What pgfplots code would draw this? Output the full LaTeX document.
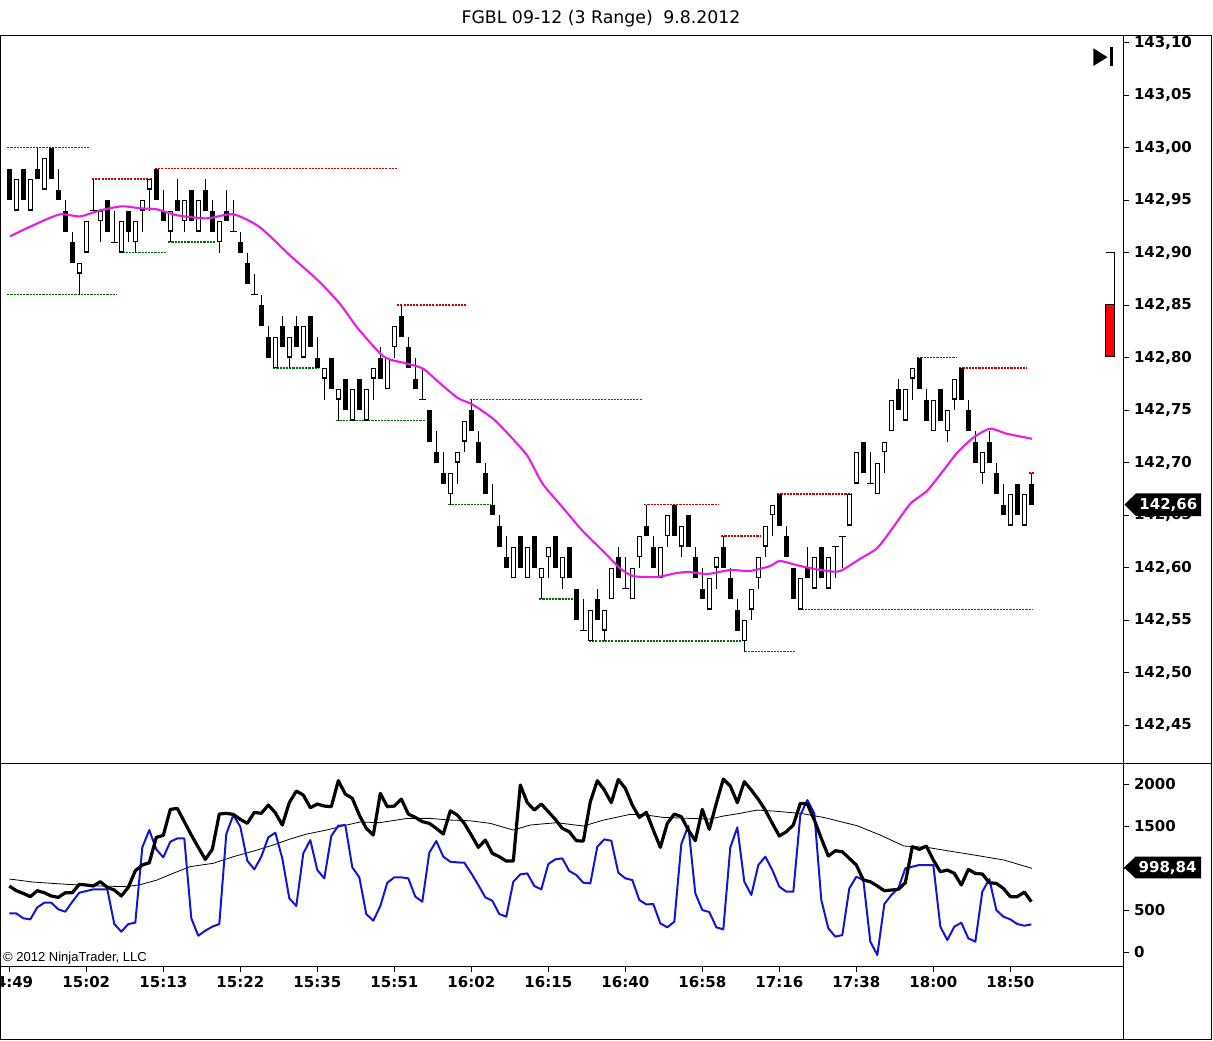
\documentclass[border=0pt]{standalone}
\usepackage{pgfplots}
\pgfplotsset{compat=1.18}
\usepackage{pgfplotstable}
\usepackage{fontspec}
\setmainfont{DejaVu Sans}
\newfontfamily\arial{Liberation Sans}
\definecolor{ma}{RGB}{230,30,230}
\definecolor{bl}{RGB}{20,20,215}
\definecolor{dred}{RGB}{200,0,0}
\definecolor{dgreen}{RGB}{0,110,0}

% down candles (close < open)
\pgfplotstableread{
i o h l c
0 142.98 142.98 142.95 142.95
2 142.98 142.98 142.95 142.95
4 142.98 143.00 142.97 142.97
6 143.00 143.00 142.97 142.97
7 142.96 142.98 142.95 142.95
8 142.94 142.95 142.92 142.92
9 142.91 142.92 142.89 142.89
14 142.95 142.95 142.92 142.92
17 142.94 142.94 142.91 142.92
21 142.98 142.98 142.95 142.95
22 142.94 142.96 142.93 142.93
24 142.95 142.97 142.94 142.94
26 142.96 142.96 142.93 142.93
28 142.96 142.97 142.94 142.94
29 142.94 142.95 142.92 142.92
31 142.94 142.96 142.93 142.93
33 142.91 142.92 142.90 142.90
34 142.89 142.90 142.87 142.87
36 142.85 142.86 142.83 142.83
37 142.82 142.83 142.80 142.80
39 142.83 142.84 142.81 142.81
41 142.83 142.84 142.81 142.81
43 142.84 142.84 142.81 142.81
44 142.80 142.82 142.79 142.79
46 142.80 142.80 142.77 142.77
48 142.78 142.78 142.75 142.75
50 142.78 142.78 142.75 142.75
53 142.80 142.81 142.78 142.78
56 142.84 142.85 142.82 142.82
57 142.81 142.82 142.79 142.79
58 142.78 142.80 142.77 142.77
60 142.75 142.75 142.72 142.72
61 142.71 142.73 142.70 142.70
62 142.69 142.71 142.68 142.68
66 142.75 142.76 142.73 142.73
67 142.72 142.73 142.70 142.70
68 142.69 142.70 142.67 142.67
69 142.66 142.68 142.65 142.65
70 142.64 142.65 142.62 142.62
71 142.61 142.63 142.60 142.60
73 142.63 142.63 142.60 142.60
75 142.63 142.63 142.60 142.60
78 142.63 142.63 142.60 142.60
80 142.62 142.62 142.59 142.59
81 142.58 142.58 142.55 142.55
84 142.57 142.58 142.55 142.55
87 142.61 142.62 142.59 142.59
91 142.64 142.66 142.63 142.63
92 142.62 142.63 142.60 142.60
95 142.66 142.66 142.63 142.63
97 142.65 142.65 142.62 142.62
98 142.61 142.62 142.59 142.59
99 142.58 142.60 142.57 142.57
102 142.62 142.63 142.60 142.60
103 142.59 142.60 142.57 142.57
104 142.56 142.57 142.54 142.54
110 142.67 142.67 142.64 142.64
111 142.63 142.64 142.61 142.61
112 142.60 142.60 142.57 142.57
114 142.60 142.62 142.59 142.59
116 142.62 142.62 142.59 142.59
122 142.72 142.72 142.69 142.69
127 142.77 142.78 142.75 142.75
130 142.80 142.80 142.77 142.77
131 142.76 142.77 142.74 142.74
133 142.77 142.77 142.74 142.74
136 142.79 142.79 142.76 142.76
137 142.75 142.76 142.73 142.73
138 142.72 142.73 142.70 142.70
140 142.72 142.73 142.70 142.70
141 142.69 142.70 142.67 142.67
142 142.66 142.68 142.65 142.65
144 142.68 142.68 142.65 142.65
146 142.68 142.69 142.66 142.66
}\dn

% up candles (close > open)
\pgfplotstableread{
i o h l c
1 142.94 142.97 142.94 142.97
3 142.94 142.97 142.94 142.97
5 142.96 142.99 142.96 142.99
10 142.88 142.89 142.86 142.89
11 142.90 142.93 142.90 142.93
13 142.93 142.94 142.91 142.94
16 142.90 142.93 142.90 142.93
18 142.91 142.93 142.90 142.93
19 142.94 142.95 142.92 142.95
20 142.96 142.97 142.94 142.97
23 142.92 142.94 142.91 142.94
25 142.93 142.95 142.92 142.95
27 142.92 142.95 142.92 142.95
30 142.91 142.93 142.90 142.93
38 142.79 142.82 142.79 142.82
40 142.80 142.82 142.79 142.82
42 142.80 142.83 142.80 142.83
45 142.78 142.79 142.76 142.79
47 142.76 142.77 142.74 142.77
49 142.74 142.77 142.74 142.77
51 142.74 142.77 142.74 142.77
52 142.78 142.79 142.76 142.79
54 142.77 142.80 142.77 142.80
55 142.81 142.83 142.80 142.83
63 142.67 142.69 142.66 142.69
64 142.70 142.71 142.68 142.71
65 142.72 142.74 142.71 142.74
72 142.59 142.62 142.59 142.62
74 142.59 142.62 142.59 142.62
76 142.59 142.60 142.57 142.60
77 142.61 142.62 142.59 142.62
79 142.59 142.61 142.58 142.61
83 142.53 142.56 142.53 142.56
85 142.54 142.56 142.53 142.56
86 142.57 142.60 142.57 142.60
89 142.57 142.60 142.57 142.60
90 142.61 142.63 142.60 142.63
93 142.59 142.62 142.59 142.62
94 142.63 142.65 142.62 142.65
96 142.62 142.64 142.61 142.64
100 142.56 142.59 142.56 142.59
101 142.60 142.61 142.58 142.61
105 142.53 142.55 142.52 142.55
106 142.56 142.58 142.55 142.58
107 142.59 142.61 142.58 142.61
108 142.62 142.64 142.61 142.64
109 142.65 142.66 142.63 142.66
113 142.56 142.59 142.56 142.59
115 142.58 142.61 142.58 142.61
117 142.58 142.61 142.58 142.61
120 142.64 142.67 142.64 142.67
121 142.68 142.71 142.68 142.71
124 142.67 142.70 142.67 142.70
125 142.71 142.72 142.69 142.72
126 142.73 142.76 142.73 142.76
128 142.74 142.77 142.74 142.77
129 142.78 142.79 142.76 142.79
132 142.73 142.76 142.73 142.76
134 142.73 142.75 142.72 142.75
135 142.76 142.78 142.75 142.78
139 142.69 142.71 142.68 142.71
143 142.64 142.67 142.64 142.67
145 142.64 142.67 142.64 142.67
}\up

% doji candles (close = open)
\pgfplotstableread{
i o h l c
12 142.94 142.97 142.94 142.94
15 142.91 142.94 142.91 142.91
32 142.92 142.95 142.92 142.92
35 142.86 142.88 142.86 142.86
59 142.76 142.79 142.76 142.76
82 142.54 142.57 142.54 142.54
88 142.58 142.61 142.58 142.58
118 142.62 142.62 142.59 142.62
119 142.63 142.63 142.60 142.63
123 142.68 142.71 142.68 142.68
}\dj

\pgfplotsset{
  wick/.style={draw=none, mark=none, forget plot,
    error bars/.cd, y dir=plus, y explicit, error mark=none,
    error bar style={draw=black, solid, line width=0.75pt}},
  body/.style={draw=none, mark=none, forget plot,
    error bars/.cd, y dir=plus, y explicit, error mark=none,
    error bar style={draw=#1, solid, line width=3.75pt}},
  inner/.style={draw=none, mark=none, forget plot,
    error bars/.cd, y dir=plus, y explicit, error mark=none,
    error bar style={draw=white, solid, line width=2.25pt}},
  lvlr/.style={dred, line width=1.3pt, dash pattern=on 1.6pt off 0.8pt, forget plot},
  lvlg/.style={dgreen, line width=1.3pt, dash pattern=on 1.6pt off 0.8pt, forget plot},
}

\begin{document}
\begin{tikzpicture}
\useasboundingbox (0pt,0pt) rectangle (909.75pt,-780pt);

\begin{axis}[
  scale only axis, width=842.1pt, height=546pt,
  at={(0.375pt,-572.475pt)}, anchor=south west,
  xmin=-1.257, xmax=159.14, ymin=142.41352, ymax=143.10686,
  xtick=\empty,
  ytick={142.45,142.50,142.55,142.60,142.65,142.70,142.75,142.80,142.85,142.90,142.95,143.00,143.05,143.10},
  ytick pos=right, yticklabel pos=right,
  tick align=outside, major tick length=4.5pt,
  tick style={black, line width=0.75pt},
  axis line style={black, line width=0.75pt},
  tick label style={font=\fontsize{11.25}{13}\selectfont\bfseries},
  /pgf/number format/assume math mode=true,
  yticklabel style={/pgf/number format/fixed, /pgf/number format/fixed zerofill,
    /pgf/number format/precision=2, /pgf/number format/use comma},
]
% support / resistance levels
\addplot[lvlr] coordinates {(-0.3,143.00) (11.4,143.00)};
\addplot[lvlr] coordinates {(11.8,142.97) (20.4,142.97)};
\addplot[lvlr] coordinates {(20.8,142.98) (55.4,142.98)};
\addplot[lvlr] coordinates {(55.4,142.85) (65.2,142.85)};
\addplot[lvlr] coordinates {(65.8,142.76) (90.4,142.76)};
\addplot[lvlr] coordinates {(90.7,142.66) (101.4,142.66)};
\addplot[lvlr] coordinates {(101.7,142.63) (107.4,142.63)};
\addplot[lvlr] coordinates {(109.7,142.67) (120.4,142.67)};
\addplot[lvlr] coordinates {(129.7,142.80) (135.4,142.80)};
\addplot[lvlr] coordinates {(135.7,142.79) (145.4,142.79)};
\addplot[lvlr] coordinates {(145.7,142.69) (146.4,142.69)};
\addplot[lvlg] coordinates {(-0.3,142.86) (15.4,142.86)};
\addplot[lvlg] coordinates {(15.7,142.90) (22.4,142.90)};
\addplot[lvlg] coordinates {(22.7,142.91) (29.4,142.91)};
\addplot[lvlg] coordinates {(37.7,142.79) (44.2,142.79)};
\addplot[lvlg] coordinates {(46.7,142.74) (59.4,142.74)};
\addplot[lvlg] coordinates {(62.7,142.66) (68.7,142.66)};
\addplot[lvlg] coordinates {(75.7,142.57) (80.5,142.57)};
\addplot[lvlg] coordinates {(82.8,142.53) (104.7,142.53)};
\addplot[lvlg] coordinates {(105.1,142.52) (112.2,142.52)};
\addplot[lvlg] coordinates {(112.7,142.56) (146.2,142.56)};
% wicks
\addplot[wick] table[x=i, y=l, y error expr=\thisrow{h}-\thisrow{l}] {\dn};
\addplot[wick] table[x=i, y=l, y error expr=\thisrow{h}-\thisrow{l}] {\up};
\addplot[wick] table[x=i, y=l, y error expr=\thisrow{h}-\thisrow{l}] {\dj};
% bodies
\addplot[body=black] table[x=i, y=c, y error expr=\thisrow{o}-\thisrow{c}] {\dn};
\addplot[body=black] table[x=i, y=o, y error expr=\thisrow{c}-\thisrow{o}] {\up};
\addplot[inner] table[x=i, y expr=\thisrow{o}+0.001, y error expr=\thisrow{c}-\thisrow{o}-0.002] {\up};
\addplot[only marks, mark=-, mark size=2.4pt, mark options={black, line width=0.75pt}, forget plot] table[x=i, y=c] {\dj};
% moving average
\addplot[ma, line width=1.6pt, smooth, tension=0.4, mark=none] coordinates {
(0.1,142.9154) (3.4,142.9259) (7.2,142.9363) (10.1,142.9344) (13.0,142.9402)
(16.1,142.9440) (18.7,142.9421) (21.1,142.9411) (24.0,142.9354) (28.2,142.9325)
(32.0,142.9364) (35.8,142.9240) (40.1,142.8972) (44.1,142.8734) (47.2,142.8514)
(49.7,142.8285) (53.0,142.8037) (54.4,142.7980) (56.8,142.7942) (59.1,142.7894)
(61.1,142.7780) (64.0,142.7617) (66.2,142.7551) (69.1,142.7417) (71.5,142.7255)
(74.0,142.7064) (76.2,142.6797) (79.1,142.6568) (81.9,142.6348) (84.8,142.6158)
(87.2,142.5995) (89.1,142.5919) (92.5,142.5910) (95.4,142.5948) (97.2,142.5957)
(99.7,142.5938) (103.0,142.5976) (105.8,142.5967) (108.7,142.6014) (110.1,142.6062)
(113.0,142.6014) (116.8,142.5967) (118.7,142.5967) (121.5,142.6081) (124.0,142.6186)
(126.2,142.6377) (128.7,142.6606) (131.1,142.6730) (133.4,142.6921) (135.4,142.7093)
(137.7,142.7236) (140.1,142.7322) (142.5,142.7274) (146.1,142.7226)};
\end{axis}

\begin{axis}[
  scale only axis, width=842.1pt, height=152pt,
  at={(0.375pt,-724.5pt)}, anchor=south west,
  xmin=-1.257, xmax=159.14, ymin=-166.7, ymax=2246.4,
  xtick={0,11,22,33,44,55,66,77,88,99,110,121,132,143},
  xticklabels={14:49,15:02,15:13,15:22,15:35,15:51,16:02,16:15,16:40,16:58,17:16,17:38,18:00,18:50},
  xtick pos=left,
  ytick={0,500,1000,1500,2000},
  yticklabels={0,500,,1500,2000},
  ytick pos=right, yticklabel pos=right,
  tick align=outside, major tick length=4.5pt,
  tick style={black, line width=0.75pt},
  axis line style={black, line width=0.75pt},
  tick label style={font=\fontsize{11.25}{13}\selectfont\bfseries},
]
\addplot[black, line width=0.6pt, mark=none] coordinates {
(0,869) (3.4,833) (8.2,806) (12.9,786) (16.8,778) (18.7,802) (21.1,857) (23.4,937)
(25.8,1016) (29.1,1056) (32,1135) (34.9,1202) (37.7,1274) (40.1,1345) (42.5,1405)
(45.3,1452) (48.2,1512) (50.1,1548) (52.9,1540) (55.3,1571) (56.8,1591) (60.1,1591)
(63,1571) (65.8,1563) (68.7,1532) (72,1452) (74.4,1512) (78.2,1540) (82,1500)
(84.9,1571) (88.7,1639) (91,1631) (93.4,1603) (97.2,1591) (100.1,1583) (102,1619)
(104.4,1651) (106.8,1690) (109.2,1678) (113,1651) (116.3,1603) (121.1,1504)
(124.4,1393) (127.8,1262) (131.1,1246) (134.9,1194) (138.7,1143) (142.1,1095) (146.1,996)};
\addplot[bl, line width=1.5pt, mark=none, line join=round] coordinates {
(0,460)(1,460)(2,401)(3,389)(4,532)(5,587)(6,587)(7,508)(8,480)(9,599)
(10,706)(11,726)(12,746)(13,746)(14,746)(15,333)(16,242)(17,333)(18,349)(19,1246)
(20,1452)(21,1222)(22,1127)(23,1313)(24,1353)(25,1353)(26,401)(27,194)(28,254)(29,302)
(30,333)(31,1405)(32,1631)(33,1492)(34,1087)(35,984)(36,1135)(37,1365)(38,1421)(39,1115)
(40,639)(41,548)(42,1175)(43,1333)(44,976)(45,877)(46,1381)(47,1504)(48,1512)(49,1008)
(50,889)(51,452)(52,373)(53,548)(54,825)(55,889)(56,889)(57,877)(58,659)(59,599)
(60,1183)(61,1321)(62,1135)(63,1075)(64,1067)(65,1063)(66,936)(67,798)(68,651)(69,611)
(70,452)(71,421)(72,837)(73,925)(74,936)(75,786)(76,746)(77,1048)(78,1103)(79,1115)
(80,964)(81,917)(82,825)(83,817)(84,1254)(85,1341)(86,1325)(87,944)(88,877)(89,857)
(90,619)(91,567)(92,571)(93,341)(94,294)(95,361)(96,1286)(97,1504)(98,698)(99,500)
(100,476)(101,294)(102,270)(103,1246)(104,1484)(105,837)(106,679)(107,1036)(108,1135)(109,976)
(110,778)(111,718)(112,718)(113,1631)(114,1809)(115,1651)(116,619)(117,282)(118,183)(119,202)
(120,758)(121,897)(122,857)(123,123)(124,-36)(125,571)(126,679)(127,758)(128,996)(129,1016)
(130,1036)(131,1036)(132,1036)(133,302)(134,143)(135,302)(136,349)(137,163)(138,123)(139,718)
(140,869)(141,500)(142,421)(143,389)(144,333)(145,313)(146,329)};
\addplot[black, line width=2.4pt, mark=none, line join=round] coordinates {
(0,786)(1,730)(2,698)(3,659)(4,730)(5,706)(6,667)(7,651)(8,706)(9,706)
(10,806)(11,798)(12,786)(13,837)(14,770)(15,738)(16,667)(17,770)(18,968)(19,1036)
(20,1063)(21,1365)(22,1389)(23,1698)(24,1710)(25,1552)(26,1393)(27,1246)(28,1103)(29,1222)
(30,1643)(31,1651)(32,1639)(33,1579)(34,1532)(35,1663)(36,1651)(37,1750)(38,1659)(39,1512)
(40,1778)(41,1917)(42,1869)(43,1718)(44,1762)(45,1738)(46,1730)(47,2040)(48,1881)(49,1829)
(50,1631)(51,1472)(52,1393)(53,1889)(54,1730)(55,1738)(56,1821)(57,1643)(58,1603)(59,1552)
(60,1532)(61,1472)(62,1405)(63,1682)(64,1631)(65,1532)(66,1393)(67,1246)(68,1333)(69,1175)
(70,1135)(71,1083)(72,1083)(73,1988)(74,1778)(75,1690)(76,1762)(77,1671)(78,1579)(79,1472)
(80,1432)(81,1325)(82,1321)(83,1790)(84,2040)(85,1929)(86,1778)(87,2055)(88,1948)(89,1750)
(90,1603)(91,1663)(92,1452)(93,1246)(94,1532)(95,1643)(96,1611)(97,1452)(98,1325)(99,1698)
(100,1460)(101,1770)(102,2059)(103,1976)(104,1778)(105,2028)(106,1929)(107,1817)(108,1690)(109,1532)
(110,1381)(111,1432)(112,1512)(113,1770)(114,1762)(115,1571)(116,1353)(117,1143)(118,1206)(119,1194)
(120,1115)(121,1036)(122,857)(123,837)(124,786)(125,730)(126,738)(127,746)(128,825)(129,1254)
(130,1222)(131,1262)(132,1095)(133,956)(134,976)(135,936)(136,798)(137,984)(138,936)(139,929)
(140,825)(141,817)(142,758)(143,659)(144,659)(145,714)(146,599)};
\end{axis}

\begin{scope}[x=0.75pt, y=-0.75pt, line width=0.75pt]
  % frame
  \draw (0.5,35.3) -- (1211.8,35.3);
  \draw (0.5,35.3) -- (0.5,1039.5) -- (1211.8,1039.5) -- (1211.8,35.3);
  \draw (1123.3,966) -- (1123.3,1039.5);
  \draw (1123.3,763.3) -- (1211.8,763.3);
  % title
  \node[font=\fontsize{13}{15}\selectfont] at (601,19) {FGBL 09-12 (3 Range)\hspace{0.6em}9.8.2012};
  % copyright
  \node[anchor=west, inner sep=0pt, font=\arial\fontsize{9.75}{11}\selectfont] at (2.7,958) {© 2012 NinjaTrader, LLC};
  % go-to-end icon
  \fill (1093.3,48.3) -- (1093.3,66) -- (1107.5,57.2) -- cycle;
  \fill (1110,46.5) rectangle (1113.3,66);
  % range progress bar
  \fill[red] (1105.3,304) rectangle (1114.3,356);
  \draw[line width=0.6pt] (1105.3,304) rectangle (1114.3,356);
  \draw[line width=0.6pt] (1106,252) -- (1114.3,252) -- (1114.3,304);
  % last price marker
  \fill (1124.5,504.6) -- (1136,493.3) -- (1201,493.3) -- (1201,516) -- (1136,516) -- cycle;
  \node[white, font=\fontsize{11.25}{13}\selectfont\bfseries] at (1168.3,504.6) {142,66};
  % last indicator marker
  \fill (1124,867.5) -- (1135.5,856.7) -- (1201,856.7) -- (1201,878.3) -- (1135.5,878.3) -- cycle;
  \node[white, font=\fontsize{11.25}{13}\selectfont\bfseries] at (1167.6,867.5) {998,84};
\end{scope}
\end{tikzpicture}
\end{document}
